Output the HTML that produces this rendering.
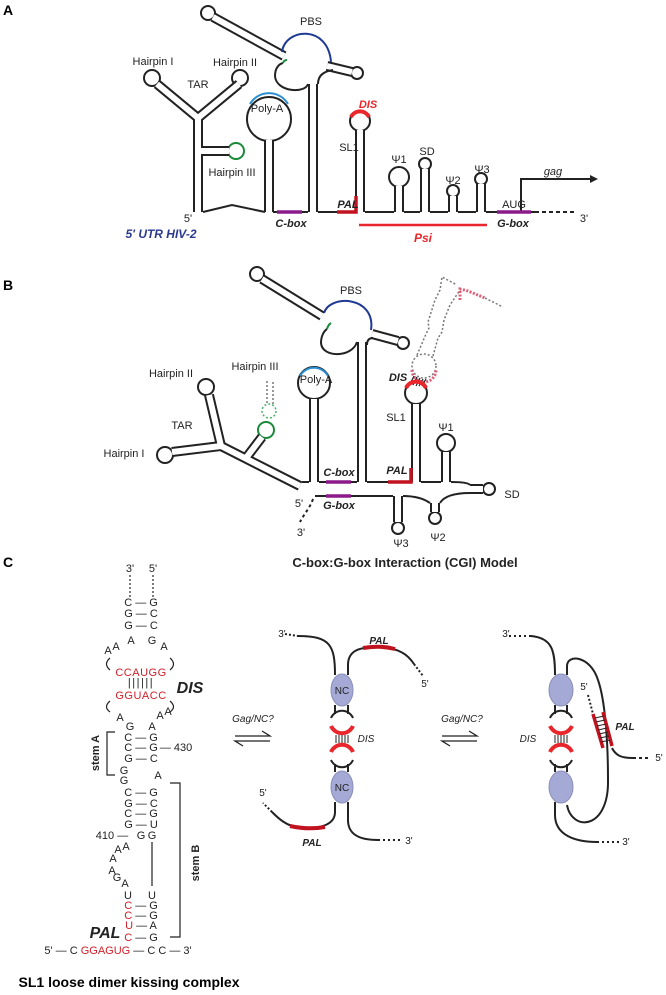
<!DOCTYPE html>
<html><head><meta charset="utf-8"><style>
html,body{margin:0;padding:0;background:#fff;}
svg{display:block;font-family:"Liberation Sans",sans-serif;}
</style></head><body>
<svg width="666" height="995" viewBox="0 0 666 995" xmlns="http://www.w3.org/2000/svg">
<defs>
<g id="stA" fill="none">
  <path d="M213,17 L284,56"/>
  <path d="M157,84 L198,118 L239,84"/>
  <path d="M198,116 L198,212"/>
  <path d="M198,151 L229,151"/>
  <path d="M269,140 L269,212"/>
  <path d="M313,84 L313,212"/>
  <path d="M327,66 L352,72"/>
  <path d="M360,130 L360,212"/>
  <path d="M399,186 L399,212"/>
  <path d="M425,169 L425,212"/>
  <path d="M453,196 L453,212"/>
  <path d="M481,184 L481,212"/>
</g>
<g id="stB" fill="none">
  <path d="M262,279 L322,316"/>
  <path d="M372,334 L398,341"/>
  <path d="M362,342 L362,482"/>
  <path d="M314,399 L314,482"/>
  <path d="M172,452 L221,446 L209,395"/>
  <path d="M221,446 L300,486"/>
  <path d="M246,458 L262,437"/>
  <path d="M416,404 L416,482"/>
  <path d="M446,452 L446,482"/>
  <path d="M470,489 L483,489"/>
  <path d="M435,503 L435,512"/>
  <path d="M398,496 L398,522"/>
</g>
</defs>

<!-- ============ PANEL A ============ -->
<text x="3" y="15" font-size="14" font-weight="bold">A</text>
<g fill="#fff" stroke="#222" stroke-width="2">
  <circle cx="208" cy="13" r="7"/>
  <circle cx="152" cy="78" r="8"/>
  <circle cx="240" cy="78" r="8"/>
  <circle cx="269" cy="119" r="22"/>
  <circle cx="357" cy="73" r="6"/>
  <circle cx="360" cy="121" r="10"/>
  <circle cx="399" cy="177" r="10"/>
  <circle cx="425" cy="164" r="6"/>
  <circle cx="453" cy="191" r="6"/>
  <circle cx="481" cy="179" r="6"/>
</g>
<circle cx="236" cy="151" r="8" fill="#fff" stroke="#1a8a3a" stroke-width="2"/>
<use href="#stA" stroke="#222" stroke-width="10"/>
<use href="#stA" stroke="#fff" stroke-width="6"/>
<g fill="none" stroke="#222" stroke-width="2">
  <path d="M308,84 C305,94 276,92 275,76 C275,68 279,64 283,63"/>
  <path d="M318,84 Q318,72 333,70"/>
  <path d="M203,212 L232,205 L265,212"/>
  <path d="M273,212 L308,212"/>
  <path d="M318,212 L355,212"/>
  <path d="M365,212 L394,212 M404,212 L420,212 M430,212 L448,212 M458,212 L476,212 M486,212 L535,212"/>
  <path d="M535,212 L576,212" stroke-dasharray="4,3"/>
  <path d="M521,212 L521,179 L590,179"/>
</g>
<path d="M590,175 L598,179 L590,183 Z" fill="#222"/>
<path d="M283,63 Q284,60 287,60" fill="none" stroke="#1a8a3a" stroke-width="2"/>
<path d="M282,52 C285,28 328,24 331,62" fill="none" stroke="#1f3a93" stroke-width="2"/>
<path d="M250,104 A22,22 0 0 1 288,104" fill="none" stroke="#2a8fd0" stroke-width="2"/>
<path d="M351,117 A10,10 0 0 1 369,117" fill="none" stroke="#e8262b" stroke-width="4"/>
<g stroke-width="3.5" fill="none">
  <path d="M277,212 L302,212" stroke="#8b1a8b"/>
  <path d="M497,212 L531,212" stroke="#8b1a8b"/>
  <path d="M337,212 L356,212 L356,196" stroke="#c1121f"/>
  <path d="M359,225 L487,225" stroke="#e8262b" stroke-width="2.5"/>
</g>
<g font-size="11" fill="#222" text-anchor="middle">
  <text x="311" y="25">PBS</text>
  <text x="153" y="65">Hairpin I</text>
  <text x="235" y="66">Hairpin II</text>
  <text x="198" y="88">TAR</text>
  <text x="267" y="112">Poly-A</text>
  <text x="232" y="176">Hairpin III</text>
  <text x="349" y="151">SL1</text>
  <text x="399" y="163">Ψ1</text>
  <text x="427" y="155">SD</text>
  <text x="453" y="184">Ψ2</text>
  <text x="482" y="173">Ψ3</text>
  <text x="514" y="208">AUG</text>
  <text x="188" y="222">5'</text>
  <text x="584" y="222">3'</text>
  <text x="553" y="175" font-style="italic">gag</text>
  <g font-weight="bold" font-style="italic">
    <text x="291" y="227">C-box</text>
    <text x="513" y="227">G-box</text>
    <text x="348" y="208">PAL</text>
    <text x="368" y="108" fill="#e8262b">DIS</text>
    <text x="423" y="242" fill="#e8262b" font-size="12">Psi</text>
    <text x="161" y="238" fill="#2b3990" font-size="12">5' UTR HIV-2</text>
  </g>
</g>

<!-- ============ PANEL B ============ -->
<text x="3" y="290" font-size="14" font-weight="bold">B</text>
<g fill="#fff" stroke="#222" stroke-width="2">
  <circle cx="257" cy="274" r="7"/>
  <circle cx="403" cy="343" r="6"/>
  <circle cx="314" cy="383" r="16"/>
  <circle cx="165" cy="455" r="8"/>
  <circle cx="206" cy="387" r="8"/>
  <circle cx="416" cy="393" r="11"/>
  <circle cx="446" cy="443" r="9"/>
  <circle cx="489" cy="489" r="6"/>
  <circle cx="435" cy="518" r="6"/>
  <circle cx="398" cy="528" r="6"/>
</g>
<circle cx="266" cy="430" r="8" fill="#fff" stroke="#1a8a3a" stroke-width="2"/>
<circle cx="269" cy="411" r="7" fill="none" stroke="#4caf6a" stroke-width="1.5" stroke-dasharray="2,2"/>
<use href="#stB" stroke="#222" stroke-width="10"/>
<use href="#stB" stroke="#fff" stroke-width="6"/>
<g fill="none" stroke="#222" stroke-width="2">
  <path d="M357,342 C352,358 322,358 321,343 C321,336 324,331 327,329"/>
  <path d="M367,345 Q367,338 373,338"/>
  <path d="M302,482 L309,482"/>
  <path d="M319,482 L357,482 M367,482 L411,482 M421,482 L441,482"/>
  <path d="M451,482 Q468,482 470,485"/>
  <path d="M470,493 Q446,493 440,503"/>
  <path d="M430,503 Q420,496 403,496"/>
  <path d="M315,496 L393,496"/>
  <path d="M313,499 C310,508 304,514 300,522" stroke-dasharray="3,3"/>
</g>
<g fill="none" stroke="#777" stroke-width="1.5" stroke-dasharray="2,2">
  <path d="M267,403 L267,380 M273,404 L273,380"/>
  <circle cx="424" cy="366" r="12"/>
  <path d="M417,355 L426,334 L429,328 L428,322 L435,300 L440,290 L442,277 L457,285"/>
  <path d="M433,356 L438,338 L442,332 L444,320 L450,305 L458,293 L460,290"/>
  <path d="M485,298 L503,307"/>
</g>
<path d="M412,370 A12,12 0 0 0 436,370" fill="none" stroke="#e0607a" stroke-width="3" stroke-dasharray="2,1.5"/>
<path d="M460,300 L460,289 L468,291 L485,298" fill="none" stroke="#e0607a" stroke-width="3" stroke-dasharray="2,1.5"/>
<g stroke="#222" stroke-width="1.2"><path d="M410,384 L414,376 M413,385 L417,377 M416,386 L420,378 M419,386 L423,379 M422,386 L426,379"/></g>
<path d="M327,329 Q328,325 331,323" fill="none" stroke="#1a8a3a" stroke-width="2"/>
<path d="M324,313 C330,294 376,296 371,330" fill="none" stroke="#1f3a93" stroke-width="2"/>
<path d="M300,376 A16,16 0 0 1 328,376" fill="none" stroke="#2a8fd0" stroke-width="2"/>
<path d="M406,388 A11,11 0 0 1 426,388" fill="none" stroke="#e8262b" stroke-width="4"/>
<g stroke-width="3.5" fill="none">
  <path d="M326,482 L351,482" stroke="#8b1a8b"/>
  <path d="M326,496 L351,496" stroke="#8b1a8b"/>
  <path d="M388,482 L411,482 L411,468" stroke="#c1121f"/>
</g>
<g font-size="11" fill="#222" text-anchor="middle">
  <text x="351" y="294">PBS</text>
  <text x="171" y="377">Hairpin II</text>
  <text x="255" y="370">Hairpin III</text>
  <text x="316" y="383">Poly-A</text>
  <text x="182" y="429">TAR</text>
  <text x="124" y="457">Hairpin I</text>
  <text x="396" y="421">SL1</text>
  <text x="446" y="431">Ψ1</text>
  <text x="512" y="498">SD</text>
  <text x="438" y="541">Ψ2</text>
  <text x="401" y="547">Ψ3</text>
  <text x="299" y="507">5'</text>
  <text x="301" y="536">3'</text>
  <g font-weight="bold" font-style="italic">
    <text x="339" y="476">C-box</text>
    <text x="339" y="509">G-box</text>
    <text x="397" y="474">PAL</text>
    <text x="398" y="381">DIS</text>
  </g>
  <text x="405" y="567" font-size="13" font-weight="bold">C-box:G-box Interaction (CGI) Model</text>
</g>

<!-- ============ PANEL C ============ -->
<text x="3" y="567" font-size="14" font-weight="bold">C</text>
<g font-size="11" fill="#222" text-anchor="middle">
  <text x="130" y="572">3'</text><text x="153" y="572">5'</text>
  <text x="141" y="606">C — G</text>
  <text x="141" y="617">G — C</text>
  <text x="141" y="629">G — C</text>
  <text x="131" y="644">A</text><text x="152" y="644">G</text>
  <text x="108" y="654">A</text><text x="116" y="650">A</text><text x="164" y="650">A</text>
  <text x="141" y="676" fill="#d0202a" letter-spacing="0.5">CCAUGG</text>
  <text x="141" y="686" letter-spacing="1.5">||||||</text>
  <text x="141" y="699" fill="#d0202a" letter-spacing="0.5">GGUACC</text>
  <text x="120" y="721">A</text><text x="130" y="730">G</text><text x="152" y="730">A</text>
  <text x="160" y="719">A</text><text x="168" y="715">A</text>
  <text x="141" y="741">C — G</text>
  <text x="141" y="751">C — G</text><text x="176" y="751">— 430</text>
  <text x="141" y="762">G — C</text>
  <text x="124" y="774">G</text><text x="124" y="784">G</text><text x="158" y="779">A</text>
  <text x="141" y="796">C — G</text>
  <text x="141" y="807">G — C</text>
  <text x="141" y="817">C — G</text>
  <text x="141" y="828">G — U</text>
  <text x="141" y="839">G</text><text x="152" y="839">G</text><text x="112" y="839">410 —</text>
  <text x="126" y="850">A</text><text x="118" y="853">A</text><text x="113" y="862">A</text>
  <text x="112" y="874">A</text><text x="117" y="881">G</text><text x="125" y="887">A</text>
  <text x="128" y="899">U</text><text x="152" y="899">U</text>
  <text x="141" y="909"><tspan fill="#d0202a">C</tspan> — G</text>
  <text x="141" y="919"><tspan fill="#d0202a">C</tspan> — G</text>
  <text x="141" y="929"><tspan fill="#d0202a">U</tspan> — A</text>
  <text x="141" y="941"><tspan fill="#d0202a">C</tspan> — G</text>
  <text x="118" y="954">5' — C <tspan fill="#d0202a">GGAGUG</tspan> — C C — 3'</text>
  <text x="190" y="693" font-size="16" font-weight="bold" font-style="italic">DIS</text>
  <text x="105" y="938" font-size="16" font-weight="bold" font-style="italic">PAL</text>
  <text x="99" y="753" font-weight="bold" transform="rotate(-90 99 753)">stem A</text>
  <text x="199" y="863" font-weight="bold" transform="rotate(-90 199 863)">stem B</text>
</g>
<g fill="none" stroke="#222" stroke-width="1.2">
  <path d="M130,575 L130,597 M153,575 L153,597" stroke-dasharray="2,2"/>
  <path d="M110,658 Q103,664 110,670 M170,658 Q177,664 170,670"/>
  <path d="M110,701 Q103,707 110,712 M170,701 Q177,707 170,712"/>
  <path d="M115,732 L107,732 L107,775 L115,775"/>
  <path d="M170,783 L180,783 L180,937 L170,937"/>
  <path d="M152,842 L152,886"/>
</g>
<text x="129" y="987" font-size="14" font-weight="bold" text-anchor="middle">SL1 loose dimer kissing complex</text>

<!-- equilibrium -->
<g font-size="10" font-style="italic" fill="#222" text-anchor="middle">
  <text x="253" y="722">Gag/NC?</text>
  <text x="462" y="722">Gag/NC?</text>
</g>
<g fill="none" stroke="#222" stroke-width="1.3">
  <path d="M235,736 L270,736 L262,731 M270,741 L235,741 L243,746"/>
  <path d="M442,736 L477,736 L469,731 M477,741 L442,741 L450,746"/>
</g>

<!-- middle diagram -->
<g fill="none" stroke="#222" stroke-width="2">
  <path d="M285,634 L298,636" stroke-dasharray="2,2"/>
  <path d="M298,636 C330,636 335,645 335,675"/>
  <path d="M348,675 L348,665 C348,650 360,647 378,647 C400,648 408,655 414,664"/>
  <path d="M414,664 L423,676" stroke-dasharray="2,2"/>
  <path d="M335,705 L335,714 M348,705 L348,714 M335,764 L335,772 M348,764 L348,772"/>
  <path d="M331,718 A12,12 0 0 1 353,718"/>
  <path d="M331,760 A12,12 0 0 0 353,760"/>
  <path d="M335,802 L335,812 C335,825 320,829 300,828 C286,826 278,818 272,812"/>
  <path d="M272,812 L263,803" stroke-dasharray="2,2"/>
  <path d="M348,802 L348,820 C348,835 360,840 378,840"/>
  <path d="M378,840 L402,840" stroke-dasharray="2,3"/>
</g>
<path d="M331,726 A12,12 0 0 0 353,726" fill="none" stroke="#e8262b" stroke-width="4"/>
<path d="M331,752 A12,12 0 0 1 353,752" fill="none" stroke="#e8262b" stroke-width="4"/>
<g stroke="#222" stroke-width="1"><path d="M336,735 L336,743 M339,735 L339,743 M342,735 L342,743 M345,735 L345,743 M348,735 L348,743"/></g>
<path d="M363,648 Q380,645 395,649" fill="none" stroke="#c1121f" stroke-width="4"/>
<path d="M290,826 Q308,830 325,827" fill="none" stroke="#c1121f" stroke-width="4"/>
<g fill="#a5a9d6" stroke="#8a8fb8" stroke-width="1">
  <ellipse cx="342" cy="690" rx="11" ry="16"/>
  <ellipse cx="342" cy="787" rx="11" ry="16"/>
</g>
<g font-size="10" fill="#222" text-anchor="middle">
  <text x="342" y="694">NC</text><text x="342" y="791">NC</text>
  <text x="425" y="687">5'</text><text x="263" y="796">5'</text>
  <text x="409" y="844">3'</text><text x="282" y="637">3'</text>
  <g font-style="italic" font-weight="bold">
    <text x="379" y="644">PAL</text>
    <text x="312" y="846">PAL</text>
  </g>
  <text x="366" y="742" font-style="italic">DIS</text>
</g>

<!-- right diagram -->
<g fill="none" stroke="#222" stroke-width="2">
  <path d="M509,636 L531,636" stroke-dasharray="2,3"/>
  <path d="M531,636 C552,638 555,650 555,675"/>
  <path d="M567,675 L567,666 C567,654 590,655 598,680 C605,700 608,740 608,780 C609,830 572,832 567,805"/>
  <path d="M555,705 L555,714 M567,705 L567,714 M555,764 L555,772 M567,764 L567,772"/>
  <path d="M550,718 A12,12 0 0 1 572,718"/>
  <path d="M550,760 A12,12 0 0 0 572,760"/>
  <path d="M555,802 L555,815 C555,835 575,842 597,842"/>
  <path d="M597,842 L620,842" stroke-dasharray="2,3"/>
  <path d="M588,695 L593,714" stroke-dasharray="2,2"/>
  <path d="M612,748 C616,756 622,758 633,758"/>
  <path d="M633,758 L650,758" stroke-dasharray="3,3"/>
</g>
<path d="M550,726 A12,12 0 0 0 572,726" fill="none" stroke="#e8262b" stroke-width="4"/>
<path d="M550,752 A12,12 0 0 1 572,752" fill="none" stroke="#e8262b" stroke-width="4"/>
<g stroke="#222" stroke-width="1"><path d="M555,735 L555,743 M558,735 L558,743 M561,735 L561,743 M564,735 L564,743 M567,735 L567,743"/></g>
<path d="M593,714 L603,748 M603,712 L612,746" fill="none" stroke="#c1121f" stroke-width="3.5"/>
<g stroke="#222" stroke-width="1"><path d="M595,718 L604,716 M596,722 L605,720 M597,726 L606,724 M598,730 L607,728 M599,734 L608,732 M600,738 L609,736 M601,742 L610,740"/></g>
<g fill="#a5a9d6" stroke="#8a8fb8" stroke-width="1">
  <ellipse cx="561" cy="690" rx="12" ry="16"/>
  <ellipse cx="561" cy="787" rx="12" ry="16"/>
</g>
<g font-size="10" fill="#222" text-anchor="middle">
  <text x="506" y="637">3'</text>
  <text x="584" y="690">5'</text>
  <text x="659" y="761">5'</text>
  <text x="626" y="845">3'</text>
  <text x="625" y="730" font-style="italic" font-weight="bold">PAL</text>
  <text x="528" y="742" font-style="italic">DIS</text>
</g>
</svg>
</body></html>
